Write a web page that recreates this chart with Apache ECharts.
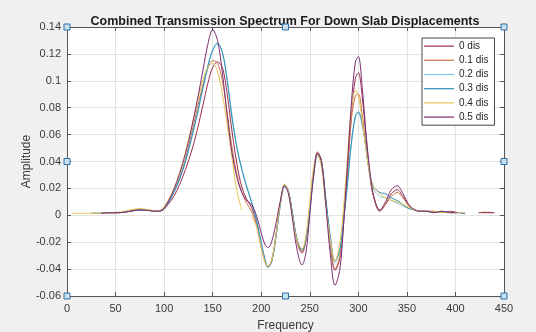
<!DOCTYPE html>
<html>
<head>
<meta charset="utf-8">
<script src="https://cdn.jsdelivr.net/npm/echarts@6/dist/echarts.min.js"></script>
<style>
  html, body { margin: 0; padding: 0; background: #f0f0f0; }
  #chart { width: 536px; height: 332px; }
</style>
</head>
<body>
<div id="chart"></div>
<script>
// Frequency samples shared by every displacement curve
const freq = [
  5, 15, 25, 35, 45, 55, 65, 75, 85, 92,
  98, 104, 110, 116, 122, 128, 134, 140, 145, 150,
  155, 160, 165, 170, 175, 180, 185, 190, 195, 200,
  204, 207, 211, 216, 220, 224, 228, 232, 237, 242,
  246, 250, 254, 258, 262, 266, 271, 276, 281, 285,
  289, 293, 297, 300, 304, 308, 312, 316, 322, 328,
  334, 340, 346, 352, 358, 364, 370, 378, 386, 394,
  402, 410, 416, 424, 432, 440
];

// Amplitude per displacement (null = no sample)
const dis0 = [
  null, null, null, 0.0015, 0.0018, 0.002, 0.003, 0.004, 0.0035, 0.003,
  0.0035, 0.008, 0.014, 0.023, 0.034, 0.047, 0.063, 0.082, 0.098, 0.110,
  0.114, 0.110, 0.090, 0.062, 0.038, 0.021, 0.012, 0.006, -0.005, -0.022,
  -0.034, -0.038, -0.033, -0.010, 0.011, 0.023, 0.018, 0.002, -0.020, -0.028,
  -0.019, 0.005, 0.032, 0.047, 0.041, 0.014, -0.020, -0.041, -0.032, -0.004,
  0.035, 0.077, 0.102, 0.106, 0.088, 0.058, 0.030, 0.013, 0.003, 0.008,
  0.016, 0.019, 0.014, 0.007, 0.004, 0.003, 0.003, 0.003, 0.002, 0.003,
  0.002, null, null, 0.002, 0.002, 0.002
];
const dis1 = [
  null, null, 0.0015, 0.0015, 0.0018, 0.002, 0.0035, 0.0045, 0.004, 0.003,
  0.004, 0.009, 0.017, 0.028, 0.042, 0.060, 0.079, 0.097, 0.109, 0.115,
  0.113, 0.100, 0.076, 0.050, 0.030, 0.017, 0.009, 0.003, -0.007, -0.024,
  -0.035, -0.038, -0.033, -0.011, 0.010, 0.022, 0.017, 0.001, -0.019, -0.027,
  -0.018, 0.006, 0.032, 0.046, 0.040, 0.014, -0.019, -0.040, -0.030, -0.001,
  0.035, 0.072, 0.089, 0.090, 0.075, 0.050, 0.028, 0.013, 0.004, 0.008,
  0.014, 0.017, 0.013, 0.007, 0.004, 0.003, 0.003, 0.002, 0.003, 0.002,
  0.002, 0.0015, null, null, null, null
];
const dis2 = [
  null, null, 0.0015, 0.0015, 0.002, 0.002, 0.003, 0.004, 0.0035, 0.003,
  0.004, 0.009, 0.017, 0.027, 0.040, 0.056, 0.074, 0.094, 0.110, 0.122,
  0.127, 0.121, 0.101, 0.074, 0.051, 0.035, 0.022, 0.010, -0.004, -0.021,
  -0.034, -0.039, -0.034, -0.012, 0.009, 0.021, 0.017, 0.001, -0.018, -0.025,
  -0.017, 0.005, 0.029, 0.044, 0.039, 0.015, -0.016, -0.035, -0.026, -0.003,
  0.024, 0.054, 0.073, 0.076, 0.067, 0.049, 0.029, 0.019, 0.014, 0.013,
  0.011, 0.009, 0.007, 0.005, 0.004, 0.003, 0.003, 0.002, 0.003, 0.002,
  0.002, 0.0015, null, null, null, null
];
const dis3 = [
  null, null, 0.0015, 0.0015, 0.002, 0.002, 0.003, 0.004, 0.0035, 0.003,
  0.004, 0.009, 0.017, 0.027, 0.040, 0.057, 0.075, 0.095, 0.111, 0.123,
  0.128, 0.121, 0.100, 0.072, 0.050, 0.034, 0.021, 0.010, -0.003, -0.020,
  -0.033, -0.0385, -0.034, -0.012, 0.010, 0.022, 0.018, 0.002, -0.018, -0.026,
  -0.018, 0.005, 0.030, 0.045, 0.040, 0.016, -0.015, -0.034, -0.025, -0.002,
  0.025, 0.055, 0.074, 0.077, 0.068, 0.050, 0.030, 0.021, 0.017, 0.016,
  0.013, 0.011, 0.008, 0.005, 0.004, 0.003, 0.003, 0.002, 0.003, 0.002,
  0.002, 0.001, null, null, null, null
];
const dis4 = [
  0.0015, 0.0015, 0.0015, 0.0015, 0.002, 0.0025, 0.004, 0.005, 0.004, 0.003,
  0.005, 0.011, 0.020, 0.032, 0.047, 0.065, 0.084, 0.101, 0.110, 0.113,
  0.107, 0.090, 0.067, 0.042, 0.018, 0.004, null, -0.001, -0.008, -0.024,
  -0.035, -0.038, -0.033, -0.010, 0.011, 0.023, 0.017, 0.000, -0.019, -0.025,
  -0.015, 0.010, 0.036, 0.045, 0.036, 0.010, -0.018, -0.034, -0.020, 0.008,
  0.045, 0.080, 0.093, 0.089, 0.070, 0.048, 0.030, 0.021, 0.016, 0.013,
  0.011, 0.010, 0.008, 0.006, 0.004, 0.003, 0.003, 0.003, 0.002, 0.002,
  0.002, 0.002, null, 0.002, 0.0025, 0.002
];
const dis5 = [
  null, null, null, 0.0015, 0.002, 0.002, 0.003, 0.004, 0.0035, 0.003,
  0.004, 0.010, 0.019, 0.031, 0.046, 0.064, 0.085, 0.108, 0.127, 0.138,
  0.130, 0.106, 0.074, 0.046, 0.028, 0.017, 0.011, 0.008, 0.000, -0.013,
  -0.022, -0.024, -0.019, -0.003, 0.012, 0.022, 0.016, -0.002, -0.026, -0.037,
  -0.028, 0.000, 0.030, 0.046, 0.040, 0.012, -0.028, -0.052, -0.040, -0.005,
  0.040, 0.085, 0.114, 0.118, 0.095, 0.060, 0.032, 0.014, 0.004, 0.010,
  0.019, 0.022, 0.016, 0.008, 0.004, 0.003, 0.003, 0.002, 0.003, 0.002,
  0.002, null, null, 0.002, 0.002, 0.002
];

const seriesNames = ['0 dis', '0.1 dis', '0.2 dis', '0.3 dis', '0.4 dis', '0.5 dis'];
const seriesValues = [dis0, dis1, dis2, dis3, dis4, dis5];
const seriesColors = ['#9b2d4f', '#cf7448', '#7fcbe6', '#2f8db3', '#e9c458', '#7d2f72'];

// Axis ranges and ticks
const xMin = 0, xMax = 450, xStep = 50;
const yMin = -0.06, yMax = 0.14, yStep = 0.02;

// Axes selection handles (box corners and edge midpoints)
const handlePoints = [
  [0, 0.14], [225, 0.14], [450, 0.14],
  [0, 0.04], [450, 0.04],
  [0, -0.06], [225, -0.06], [450, -0.06]
];

const font = '"Liberation Sans", Arial, Helvetica, sans-serif';
const axisColor = '#555555';
const textColor = '#3a3a3a';

const chart = echarts.init(document.getElementById('chart'), null, { renderer: 'canvas' });

const lineSeries = seriesNames.map((name, k) => ({
  name: name,
  type: 'line',
  xAxisIndex: 0,
  yAxisIndex: 0,
  data: freq.map((f, i) => [f, seriesValues[k][i] === null ? '-' : seriesValues[k][i]]),
  showSymbol: false,
  symbol: 'none',
  smooth: 0.35,
  connectNulls: false,
  lineStyle: { color: seriesColors[k], width: 1 },
  itemStyle: { color: seriesColors[k] },
  emphasis: { disabled: true },
  animation: false,
  z: 2 + k
}));

const fmtY = v => String(parseFloat(v.toFixed(2)));

const option = {
  backgroundColor: '#f0f0f0',
  animation: false,
  title: {
    text: 'Combined Transmission Spectrum For Down Slab Displacements',
    left: 280,
    top: 10,
    textAlign: 'center',
    textStyle: { fontFamily: font, fontSize: 12.5, fontWeight: 'bold', color: '#1a1a1a' }
  },
  grid: {
    left: 67, right: 32, top: 27, bottom: 36,
    show: true, backgroundColor: '#ffffff', borderWidth: 0,
    containLabel: false,
    outerBoundsMode: 'none'
  },
  legend: {
    data: seriesNames.map(n => ({ name: n, icon: 'rect' })),
    orient: 'vertical',
    left: 422,
    top: 38,
    itemWidth: 30,
    itemHeight: 1.2,
    itemGap: 2,
    padding: [2, 6, 2, 2],
    backgroundColor: '#ffffff',
    borderColor: '#444444',
    borderWidth: 1,
    borderRadius: 0,
    selectedMode: false,
    textStyle: { fontFamily: font, fontSize: 10, color: '#262626', lineHeight: 12.2 }
  },
  xAxis: [
    {
      type: 'value', position: 'bottom',
      min: xMin, max: xMax, interval: xStep,
      name: 'Frequency', nameLocation: 'middle', nameGap: 24, nameMoveOverlap: false,
      nameTextStyle: { fontFamily: font, fontSize: 12, color: textColor },
      axisLine: { show: true, onZero: false, lineStyle: { color: axisColor, width: 1 } },
      axisTick: { show: true, inside: true, length: 4, lineStyle: { color: axisColor } },
      axisLabel: { fontFamily: font, fontSize: 11, color: textColor, margin: 7 },
      splitLine: { show: true, lineStyle: { color: '#e4e4e4', width: 1 } }
    },
    {
      type: 'value', position: 'top',
      min: xMin, max: xMax, interval: xStep,
      axisLine: { show: true, onZero: false, lineStyle: { color: axisColor, width: 1 } },
      axisTick: { show: true, inside: true, length: 4, lineStyle: { color: axisColor } },
      axisLabel: { show: false },
      splitLine: { show: false }
    }
  ],
  yAxis: [
    {
      type: 'value', position: 'left',
      min: yMin, max: yMax, interval: yStep,
      name: 'Amplitude', nameLocation: 'middle', nameGap: 34, nameRotate: 90, nameMoveOverlap: false,
      nameTextStyle: { fontFamily: font, fontSize: 12, color: textColor },
      axisLine: { show: true, onZero: false, lineStyle: { color: axisColor, width: 1 } },
      axisTick: { show: true, inside: true, length: 4, lineStyle: { color: axisColor } },
      axisLabel: { fontFamily: font, fontSize: 11, color: textColor, margin: 6, formatter: fmtY },
      splitLine: { show: true, lineStyle: { color: '#e4e4e4', width: 1 } }
    },
    {
      type: 'value', position: 'right',
      min: yMin, max: yMax, interval: yStep,
      axisLine: { show: true, onZero: false, lineStyle: { color: axisColor, width: 1 } },
      axisTick: { show: true, inside: true, length: 4, lineStyle: { color: axisColor } },
      axisLabel: { show: false },
      splitLine: { show: false }
    }
  ],
  series: lineSeries.concat([{
    name: 'handles',
    type: 'scatter',
    xAxisIndex: 0,
    yAxisIndex: 0,
    data: handlePoints,
    symbol: 'rect',
    symbolSize: 6,
    clip: false,
    silent: true,
    itemStyle: { color: '#c6e0f0', borderColor: '#2f6fa8', borderWidth: 1, opacity: 1 },
    z: 20
  }])
};

chart.setOption(option);
</script>
</body>
</html>
